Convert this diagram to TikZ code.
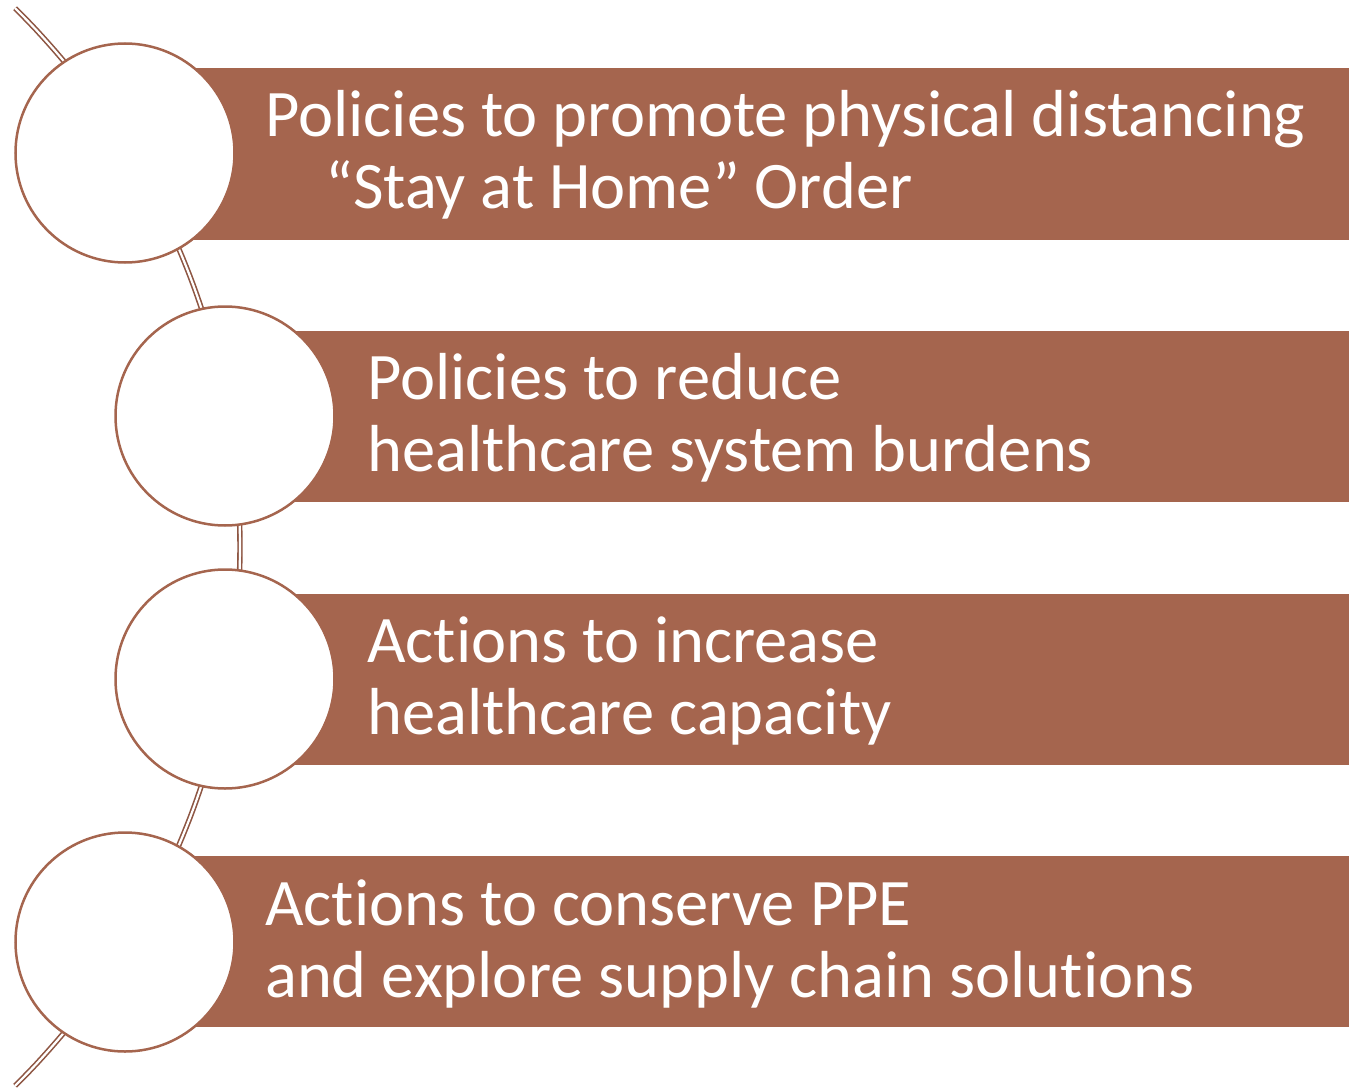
\documentclass[tikz,border=0pt]{standalone}
\usepackage{fontspec}
\setmainfont{Carlito}[Ligatures={NoCommon}]
\definecolor{boxcol}{HTML}{A5654E}
\definecolor{linecol}{HTML}{8E5643}
\begin{document}
\begin{tikzpicture}[x=1pt,y=-1pt,
  bar/.style={fill=boxcol,draw=none},
  disc/.style={circle,draw=boxcol,line width=2.5pt,fill=white,minimum size=219pt,inner sep=0pt},
  label/.style={anchor=base west,inner sep=0pt,text=white,font=\fontsize{66.5}{72}\selectfont},
  rail/.style={draw=linecol,line width=1.6pt,double=white,double distance=2.2pt}]
\useasboundingbox (0,0) rectangle (1354,1089);
% connecting arc
\coordinate (top) at ({-518+758*cos(-45.3)},{547+758*sin(-45.3)});
\coordinate (bot) at ({-518+758*cos(45.3)},{547+758*sin(45.3)});
\draw[rail] plot[domain=-45.3:45.3,samples=120] ({-518+758*cos(\x)},{547+758*sin(\x)});
% bars
\path[bar] (150,68) rectangle (1349,240) node[pos=0,inner sep=0] (r1) {};
\path[bar] (250,331) rectangle (1349,502) node[pos=0,inner sep=0] (r2) {};
\path[bar] (250,594) rectangle (1349,765) node[pos=0,inner sep=0] (r3) {};
\path[bar] (150,856) rectangle (1349,1027) node[pos=0,inner sep=0] (r4) {};
% circles
\node[disc] (c1) at (125,153) {};
\node[disc] (c2) at (225,416) {};
\node[disc] (c3) at (225,679) {};
\node[disc] (c4) at (125,942) {};
% texts
\node[label] (t1a) at (265,136) {Policies to promote physical distancing};
\node[label] (t1b) at (325,208) {“Stay at Home” Order};
\node[label] (t2a) at (367,399) {Policies to reduce};
\node[label] (t2b) at (367,471) {healthcare system burdens};
\node[label] (t3a) at (367,662) {Actions to increase};
\node[label] (t3b) at (367,734) {healthcare capacity};
\node[label] (t4a) at (265,925) {Actions to conserve PPE};
\node[label] (t4b) at (265,997) {and explore supply chain solutions};
\end{tikzpicture}
\end{document}
